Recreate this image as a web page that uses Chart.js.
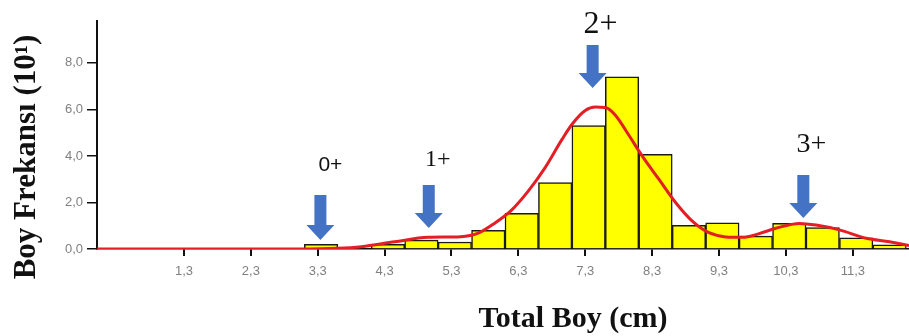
<!DOCTYPE html>
<html>
<head>
<meta charset="utf-8">
<script src="https://cdn.jsdelivr.net/npm/chart.js@4/dist/chart.umd.min.js"></script>
<style>
  body { margin: 0; background: #fff; }
  canvas { display: block; }
</style>
</head>
<body>
<canvas id="chart" width="909" height="336"></canvas>
<script>
// histogram bins (cm, 0.5 wide) and frequencies (x10)
const binCenters = [3.35, 4.35, 4.85, 5.35, 5.85, 6.35, 6.85, 7.35, 7.85, 8.35, 8.85, 9.35, 9.85, 10.35, 10.85, 11.35, 11.85];
const binCounts = [0.2, 0.2, 0.38, 0.3, 0.8, 1.53, 2.85, 5.3, 7.4, 4.07, 1.02, 1.13, 0.55, 1.1, 0.92, 0.48, 0.18];

// fitted curve
const curveX = [0, 3.0, 3.6, 3.95, 4.45, 4.95, 5.44, 5.69, 5.94, 6.19, 6.45, 6.7, 6.95, 7.1, 7.3, 7.45, 7.6, 7.75, 7.95, 8.15, 8.4, 8.65, 8.9, 9.15, 9.4, 9.65, 9.9, 10.15, 10.5, 10.75, 11.1, 11.5, 11.85, 12.14];
const curveY = [0, 0, 0.03, 0.1, 0.31, 0.5, 0.53, 0.67, 1.1, 1.65, 2.5, 3.5, 4.7, 5.35, 5.95, 6.1, 6.08, 5.75, 4.9, 4.0, 3.0, 2.0, 1.2, 0.7, 0.52, 0.5, 0.66, 0.89, 1.1, 1.03, 0.82, 0.46, 0.31, 0.15];

const xTicks = [1.3, 2.3, 3.3, 4.3, 5.3, 6.3, 7.3, 8.3, 9.3, 10.3, 11.3];
const yTicks = [0, 2, 4, 6, 8];

// age group markers
const ageLabels = ["0+", "1+", "2+", "3+"];
const ageX = [3.34, 4.96, 7.41, 10.56];

const fmt = v => Number(v).toFixed(1).replace(".", ",");

// arrows + labels + axis titles
const marks = {
  arrows: [
    { x: 3.34, top: 195, tip: 240 },
    { x: 4.96, top: 185, tip: 228 },
    { x: 7.41, top: 45, tip: 88 },
    { x: 10.56, top: 175, tip: 218 }
  ],
  labels: [
    { dx: 10, y: 165, font: "21px 'Liberation Sans'" },
    { dx: 9, y: 160, font: "24px 'Liberation Serif'" },
    { dx: 8, y: 25, font: "32px 'Liberation Serif'" },
    { dx: 8, y: 145, font: "28px 'Liberation Serif'" }
  ]
};

const annotate = {
  id: "annotate",
  afterDraw(chart) {
    const ctx = chart.ctx;
    const xs = chart.scales.x;
    ctx.save();
    ctx.fillStyle = "#4472C4";
    marks.arrows.forEach(a => {
      const cx = xs.getPixelForValue(a.x);
      const headTop = a.tip - 15;
      ctx.beginPath();
      ctx.moveTo(cx - 6, a.top);
      ctx.lineTo(cx + 6, a.top);
      ctx.lineTo(cx + 6, headTop);
      ctx.lineTo(cx + 14, headTop);
      ctx.lineTo(cx, a.tip);
      ctx.lineTo(cx - 14, headTop);
      ctx.lineTo(cx - 6, headTop);
      ctx.closePath();
      ctx.fill();
    });
    ctx.fillStyle = "#111";
    ctx.textAlign = "center";
    ctx.textBaseline = "middle";
    ageLabels.forEach((t, i) => {
      const l = marks.labels[i];
      ctx.font = l.font;
      ctx.fillText(t, xs.getPixelForValue(ageX[i]) + l.dx, l.y);
    });

    ctx.font = "bold 30px 'Liberation Serif'";
    ctx.textBaseline = "alphabetic";
    ctx.fillText("Total Boy (cm)", 573, 327);

    ctx.font = "bold 31px 'Liberation Serif'";
    ctx.translate(35, 157);
    ctx.rotate(-Math.PI / 2);
    ctx.fillText("Boy Frekansı (10¹)", 0, 0);
    ctx.restore();
  }
};

new Chart(document.getElementById("chart"), {
  data: {
    datasets: [
      {
        type: "line",
        data: curveX.map((x, i) => ({ x: x, y: curveY[i] })),
        borderColor: "#E31E24",
        borderWidth: 3,
        pointRadius: 0,
        cubicInterpolationMode: "monotone",
        order: 0
      },
      {
        type: "bar",
        data: binCenters.map((x, i) => ({ x: x, y: binCounts[i] })),
        backgroundColor: "#FFFF00",
        borderColor: "#1a1a1a",
        borderWidth: 1.5,
        barPercentage: 1,
        categoryPercentage: 1,
        order: 1
      }
    ]
  },
  options: {
    responsive: false,
    animation: false,
    layout: { padding: { top: 21, right: 0, left: 0, bottom: 0 } },
    plugins: { legend: { display: false }, tooltip: { enabled: false } },
    scales: {
      x: {
        type: "linear",
        min: 0,
        max: 12.14,
        offset: false,
        afterBuildTicks: s => { s.ticks = xTicks.map(v => ({ value: v })); },
        afterFit: s => { s.height = 87; },
        grid: { drawOnChartArea: false, offset: false, tickLength: 7, color: "#111", lineWidth: 2 },
        border: { color: "#111", width: 1.5 },
        ticks: {
          callback: v => fmt(v),
          color: "#808080",
          font: { family: "'Liberation Sans'", size: 13 },
          padding: 8,
          maxRotation: 0,
          autoSkip: false
        }
      },
      y: {
        min: 0,
        max: 9.8,
        afterBuildTicks: s => { s.ticks = yTicks.map(v => ({ value: v })); },
        afterFit: s => { s.width = 97; },
        grid: { drawOnChartArea: false, tickLength: 10, color: "#111", lineWidth: 1.5 },
        border: { color: "#111", width: 2 },
        ticks: {
          callback: v => fmt(v),
          color: "#808080",
          font: { family: "'Liberation Sans'", size: 13 },
          padding: 4
        }
      }
    }
  },
  plugins: [annotate]
});
</script>
</body>
</html>
